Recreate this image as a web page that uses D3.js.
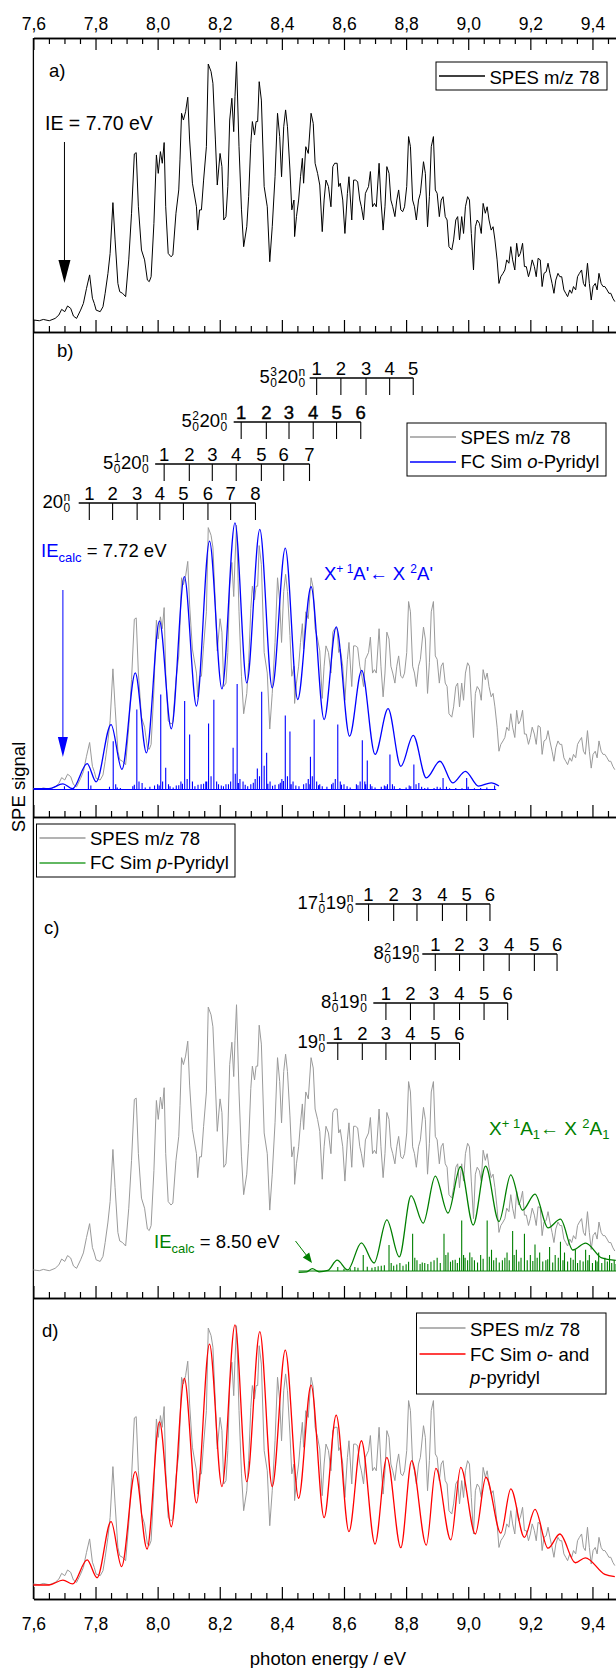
<!DOCTYPE html>
<html>
<head>
<meta charset="utf-8">
<script src="https://cdn.jsdelivr.net/npm/d3@7"></script>
<style>
  body { margin: 0; background: #fff; }
  text { font-family: "Liberation Sans", Arial, sans-serif; }
</style>
</head>
<body>
<div id="chart"></div>
<script>
// SPES m/z 78 and Franck-Condon simulations, four stacked panels

// tick labels
var majorTicks = [7.6, 7.8, 8.0, 8.2, 8.4, 8.6, 8.8, 9.0, 9.2, 9.4];
var minorTicks = d3.range(7.65, 9.48, 0.05).filter(t => Math.abs(t * 5 - Math.round(t * 5)) > 0.01);

// measured SPES (same trace in every panel)
var spesEnergy = [7.600,7.619,7.632,7.651,7.670,7.682,7.691,7.701,7.710,7.720,7.729,7.739,7.752,7.761,7.771,7.781,7.790,7.796,7.802,7.815,7.824,7.831,7.840,7.847,7.856,7.863,7.872,7.878,7.887,7.897,7.907,7.916,7.925,7.931,7.938,7.948,7.958,7.967,7.973,7.979,7.988,7.996,8.002,8.009,8.015,8.021,8.026,8.034,8.043,8.049,8.059,8.068,8.072,8.077,8.083,8.090,8.097,8.103,8.112,8.125,8.129,8.135,8.141,8.148,8.157,8.163,8.172,8.178,8.186,8.192,8.201,8.207,8.213,8.220,8.226,8.232,8.239,8.245,8.249,8.254,8.262,8.270,8.277,8.287,8.293,8.300,8.305,8.312,8.317,8.322,8.327,8.334,8.343,8.353,8.361,8.369,8.378,8.386,8.393,8.399,8.406,8.412,8.418,8.426,8.432,8.439,8.441,8.447,8.454,8.460,8.466,8.470,8.477,8.485,8.494,8.501,8.507,8.515,8.522,8.530,8.536,8.542,8.550,8.558,8.564,8.570,8.578,8.583,8.588,8.596,8.603,8.611,8.616,8.625,8.631,8.637,8.644,8.651,8.656,8.663,8.669,8.679,8.685,8.692,8.698,8.704,8.713,8.719,8.726,8.732,8.738,8.745,8.751,8.757,8.764,8.770,8.776,8.783,8.789,8.795,8.802,8.808,8.814,8.821,8.827,8.833,8.840,8.846,8.856,8.862,8.869,8.875,8.881,8.888,8.894,8.900,8.907,8.913,8.919,8.926,8.932,8.938,8.947,8.953,8.960,8.966,8.972,8.979,8.985,8.991,8.998,9.004,9.010,9.017,9.023,9.029,9.036,9.042,9.048,9.055,9.061,9.067,9.074,9.080,9.086,9.093,9.099,9.105,9.112,9.118,9.124,9.131,9.137,9.143,9.150,9.156,9.162,9.168,9.175,9.181,9.187,9.194,9.200,9.206,9.213,9.219,9.225,9.232,9.238,9.244,9.251,9.257,9.263,9.270,9.276,9.282,9.289,9.295,9.301,9.308,9.314,9.320,9.327,9.333,9.339,9.346,9.352,9.358,9.365,9.371,9.377,9.384,9.390,9.396,9.402,9.409,9.415,9.421,9.428,9.434,9.440,9.447,9.453,9.459,9.466,9.472];
var spesSignal = [0.4,0.1,0.6,0.1,1.0,2.3,4.5,3.6,5.8,4.9,1.9,1.0,4.2,6.8,12.6,17.8,8.8,6.8,4.2,3.6,5.5,10.7,18.4,26.1,45.7,31.3,14.5,11.3,10.7,9.4,23.6,41.6,64.5,65.0,44.1,27.4,23.6,15.8,15.2,17.1,37.7,64.1,57.0,65.4,60.9,68.9,44.1,26.1,24.8,25.5,41.6,50.6,62.2,80.2,77.6,80.8,86.4,69.9,53.2,44.1,35.1,42.9,42.9,54.4,67.3,99.2,96.3,91.8,69.9,52.5,64.7,59.6,39.0,40.3,51.9,77.6,86.0,73.1,86.6,100.1,67.3,42.9,28.7,36.4,48.0,68.6,77.0,71.8,77.0,77.0,92.4,85.3,51.9,44.1,22.9,36.4,55.7,80.2,71.2,55.7,75.0,81.5,75.0,58.3,42.9,46.7,32.6,40.3,46.7,55.7,62.8,53.2,67.3,64.7,80.2,76.3,60.9,57.0,52.5,34.5,46.7,54.4,51.9,44.1,59.6,60.9,60.9,51.9,53.2,46.7,33.8,49.3,55.7,39.0,54.4,54.4,53.8,46.7,44.1,39.0,49.3,51.9,57.7,44.1,45.4,44.1,60.9,46.7,35.1,44.1,59.6,57.0,46.7,44.1,40.3,46.7,50.6,42.9,42.2,44.1,51.9,71.2,67.3,46.7,44.1,39.0,46.7,49.3,61.5,57.0,36.4,48.0,67.3,71.2,50.6,49.3,40.3,46.7,48.0,40.3,39.0,28.7,27.4,31.3,39.0,40.3,31.3,40.3,33.8,44.1,48.0,46.7,33.8,19.7,36.4,39.0,37.7,33.8,45.4,41.6,44.1,39.0,35.1,36.4,31.3,23.6,14.5,17.1,18.4,19.7,23.6,22.3,28.7,23.6,19.7,30.0,24.8,26.1,30.0,21.0,21.0,17.1,19.7,23.6,21.0,17.1,24.2,23.6,13.3,18.4,19.0,22.3,18.4,14.5,10.7,15.8,18.4,17.1,17.1,12.0,10.7,9.4,12.0,10.7,13.3,12.0,17.1,18.4,19.7,14.5,13.3,22.3,14.5,8.1,13.3,14.5,12.0,18.4,14.5,13.3,13.3,12.0,10.7,10.7,8.7,7.5];

// FC simulation o-pyridyl (envelope + sticks)
var oSimEnergy = [7.600,7.650,7.695,7.726,7.773,7.802,7.850,7.885,7.928,7.964,8.006,8.044,8.086,8.125,8.167,8.207,8.249,8.287,8.329,8.369,8.411,8.451,8.494,8.536,8.575,8.618,8.657,8.700,8.742,8.783,8.823,8.865,8.909,8.950,8.991,9.033,9.074,9.099];
var oSimSignal = [0.3,0.3,2.1,0.3,9.8,2.9,24.6,7.6,44.2,13.9,63.8,23.0,80.6,31.6,94.1,38.1,101.0,40.4,98.5,38.5,91.4,34.1,76.8,26.5,61.6,20.2,45.1,13.3,30.6,8.8,20.5,4.4,10.7,2.5,6.9,1.3,2.5,1.3];
var oStickEnergy = [7.700,7.777,7.785,7.857,7.865,7.933,7.940,7.950,7.990,8.000,8.010,8.016,8.026,8.035,8.060,8.075,8.087,8.095,8.103,8.112,8.140,8.155,8.164,8.172,8.181,8.190,8.220,8.235,8.243,8.250,8.256,8.265,8.275,8.300,8.314,8.321,8.328,8.335,8.343,8.351,8.362,8.390,8.400,8.411,8.418,8.426,8.436,8.470,8.485,8.492,8.498,8.504,8.512,8.522,8.560,8.572,8.580,8.588,8.600,8.640,8.652,8.659,8.667,8.675,8.685,8.730,8.740,8.748,8.756,8.810,8.825,8.832,8.841,8.850,8.900,8.919,8.930,8.995,9.000,9.060,9.085];
var oStickHeight = [1.2,6.9,1.5,18.3,2,30.3,3,2.5,1.5,2,36,3,8.2,2,1.5,3,33.5,4,20.8,3,2,3,25,5,34,3,2,3,15.8,6,40,4,3,2,4,8,5,37,9,13.9,3,2,4,28,5,22,3,2,4,12.4,5,26.5,3,2,2,4,24.6,3,2,2,3,18.7,3,11,2,1.5,2,13.3,2,1.5,9.5,2,2.5,1,1,4.4,1,4.4,1,0.8,1.5];
var oGrassEnergy = [7.845,7.870,7.880,7.920,7.925,7.960,7.975,8.005,8.040,8.050,8.068,8.080,8.120,8.130,8.148,8.158,8.196,8.205,8.212,8.228,8.260,8.282,8.290,8.308,8.355,8.370,8.378,8.395,8.405,8.430,8.445,8.455,8.478,8.490,8.518,8.530,8.545,8.565,8.592,8.610,8.620,8.645,8.670,8.690,8.700,8.720,8.735,8.762,8.780,8.800,8.815,8.860,8.870,8.890,8.910,8.940,8.960,8.980,9.020,9.040];
var oGrassHeight = [1,0.8,0.6,1.2,1.8,0.8,1,1.5,1.2,0.8,1.6,2.2,1.2,1.8,2.2,3,2,1.5,1.2,2,2.5,1.8,1.2,2.6,2.2,1.4,1.8,2.6,3.2,2,1.5,1.2,2.4,2,1.6,1.2,1,2.6,1.8,1.2,0.8,1.6,2,1.2,0.8,1,1.2,1.2,0.6,0.8,1.2,0.6,0.8,0.6,0.8,0.5,0.6,0.5,0.5,0.6];

// FC simulation p-pyridyl (envelope + sticks)
var pSimEnergy = [8.454,8.480,8.498,8.520,8.548,8.578,8.612,8.656,8.697,8.738,8.778,8.816,8.855,8.894,8.935,8.975,9.016,9.056,9.099,9.137,9.175,9.215,9.257,9.297,9.337,9.378,9.430,9.475];
var pSimSignal = [-0.5,-0.3,0.9,-0.3,0.2,4.1,0.4,10.6,3.0,19.2,5.3,28.3,18.0,35.7,21.8,39.2,17.3,39.4,18.6,36.1,22.9,28.9,16.2,19.5,7.9,10.5,4.9,4.0];
var pStickEnergy = [8.580,8.662,8.700,8.720,8.745,8.760,8.780,8.800,8.821,8.835,8.860,8.880,8.900,8.922,8.935,8.950,8.965,8.979,8.990,9.005,9.020,9.040,9.061,9.075,9.090,9.110,9.125,9.143,9.155,9.170,9.181,9.200,9.215,9.230,9.250,9.262,9.280,9.297,9.310,9.330,9.345,9.360,9.378,9.390,9.410,9.420,9.440,9.455,9.470];
var pStickHeight = [1.5,6,1.5,2,9.8,2,3,2.5,14,4,3,3.5,5,14,7,4,3,19,5,7,4,6,19,8,5,4,7,15,8,5,14,6,10,7,4,9,6,11,7,5,8,4,8,6,4,7,5,6,4];
var pGrassEnergy = [8.600,8.620,8.635,8.645,8.675,8.690,8.710,8.730,8.752,8.770,8.790,8.808,8.828,8.845,8.852,8.870,8.890,8.910,8.928,8.943,8.958,8.972,8.985,8.998,9.012,9.030,9.048,9.068,9.082,9.100,9.118,9.132,9.148,9.163,9.190,9.208,9.222,9.240,9.256,9.272,9.290,9.305,9.320,9.338,9.352,9.370,9.385,9.400,9.415,9.430,9.448,9.462,9.476];
var pGrassHeight = [0.8,1,1.5,1.2,1.6,1.2,1.8,2.2,3,2.4,2,3.5,5,2.6,3.2,2.6,4,3,6,3.5,4.2,5,6,4,5.2,3.2,4.6,5.4,4,3.2,5,4,6,3.6,4,3.8,5,3.6,4.4,3.2,5,4,3.6,4.2,3,3.6,4,3,3.6,3,3.6,3,2.6];

// FC simulation o- and p-pyridyl combined
var sumEnergy = [7.600,7.650,7.695,7.726,7.773,7.805,7.850,7.884,7.928,7.966,8.006,8.044,8.086,8.125,8.167,8.207,8.249,8.287,8.329,8.369,8.411,8.454,8.494,8.536,8.575,8.616,8.656,8.700,8.738,8.783,8.818,8.865,8.896,8.944,8.976,9.023,9.057,9.105,9.137,9.181,9.215,9.257,9.295,9.345,9.377,9.440,9.472];
var sumSignal = [0,0,1.9,0.4,9.7,2.8,24.5,7.1,43.8,13.9,63,22.5,79.8,31.7,93,38,100.4,39.9,97.8,38,90.7,33.5,77.2,26,65.6,20.6,55.7,15.8,49.3,14.4,48,15.4,45,17.4,45.4,19.7,41.6,20,37.1,18.4,29.2,14.2,19.7,8.6,10.5,4.1,3.2];

// vibrational progressions (energies of the comb ticks)
var prog5_3 = [8.512, 8.590, 8.671, 8.747, 8.823];
var prog5_2 = [8.269, 8.350, 8.423, 8.501, 8.576, 8.654];
var prog5_1 = [8.021, 8.102, 8.176, 8.253, 8.334, 8.406, 8.489];
var prog20 = [7.780, 7.855, 7.934, 8.007, 8.083, 8.162, 8.235, 8.315];
var prog17_19 = [8.679, 8.760, 8.835, 8.917, 8.995, 9.070];
var prog8_2 = [8.894, 8.972, 9.050, 9.132, 9.213, 9.286];
var prog8_1 = [8.735, 8.814, 8.890, 8.972, 9.051, 9.127];
var prog19 = [8.580, 8.659, 8.735, 8.814, 8.894, 8.972];

var gray = "#9a9a9a", blue = "#0000ff", green = "#007f00", red = "#ff0000";
var fs = 18.5;

var svgwidth = 616, svgheight = 1668;
var svg = d3.select("#chart").append("svg")
    .attr("width", svgwidth)
    .attr("height", svgheight);

var x = d3.scaleLinear().domain([7.6, 9.48]).range([33.4, 617.3]);

var panels = [
    {top: 38, bottom: 332, base: 321, span: 259},
    {top: 332, bottom: 817, base: 789.5, span: 264},
    {top: 817, bottom: 1298, base: 1271, span: 266},
    {top: 1298, bottom: 1599, base: 1585, span: 259}
];
panels.forEach(p => p.y = d3.scaleLinear().domain([0, 100]).range([p.base, p.base - p.span]));

var fmt = d3.formatLocale({decimal: ",", thousands: ".", grouping: [3], currency: ["", ""]}).format(".1f");

function styleAxis(g) {
    g.select(".domain").attr("stroke-width", 1.3);
    g.selectAll(".tick line").attr("stroke-width", 1.2);
    g.attr("font-size", 17.5).attr("font-family", "Liberation Sans, Arial, sans-serif");
}

// bottom axes of every panel, ticks pointing inward
panels.forEach(function(p, i) {
    var major = d3.axisBottom(x).tickValues(majorTicks).tickSize(-12).tickSizeOuter(0)
        .tickPadding(19).tickFormat(i === 3 ? fmt : () => "");
    var minor = d3.axisBottom(x).tickValues(minorTicks).tickSize(-6).tickSizeOuter(0).tickFormat(() => "");
    svg.append("g").attr("transform", `translate(0,${p.bottom})`).call(minor).call(styleAxis);
    svg.append("g").attr("transform", `translate(0,${p.bottom})`).call(major).call(styleAxis);
});

// top axis with labels
svg.append("g").attr("transform", `translate(0,${panels[0].top})`)
    .call(d3.axisTop(x).tickValues(minorTicks).tickSize(-6).tickSizeOuter(0).tickFormat(() => ""))
    .call(styleAxis);
svg.append("g").attr("transform", `translate(0,${panels[0].top})`)
    .call(d3.axisTop(x).tickValues(majorTicks).tickSize(-12).tickSizeOuter(0).tickPadding(8).tickFormat(fmt))
    .call(styleAxis);

// left axis line
svg.append("line")
    .attr("x1", x(7.6)).attr("x2", x(7.6))
    .attr("y1", panels[0].top).attr("y2", panels[3].bottom)
    .attr("stroke", "#000").attr("stroke-width", 1.3);

function lineFor(p, curve) {
    return d3.line().x(d => x(d[0])).y(d => p.y(d[1])).curve(curve || d3.curveLinear);
}

// stick spectrum drawn as one path along the baseline
function sticks(list, from, to) {
    var pts = [[from, 0]];
    list.slice().sort((a, b) => a[0] - b[0]).forEach(function(s) {
        pts.push([s[0], 0], [s[0], s[1]], [s[0], 0]);
    });
    pts.push([to, 0]);
    return pts;
}

var spes = d3.zip(spesEnergy, spesSignal);
var oSticks = d3.zip(oStickEnergy, oStickHeight).concat(d3.zip(oGrassEnergy, oGrassHeight));
var pSticks = d3.zip(pStickEnergy, pStickHeight).concat(d3.zip(pGrassEnergy, pGrassHeight));

// panel a
svg.append("path").datum(spes)
    .attr("d", lineFor(panels[0])).attr("fill", "none").attr("stroke", "#000").attr("stroke-width", 1);

// panel b
svg.append("path").datum(spes)
    .attr("d", lineFor(panels[1])).attr("fill", "none").attr("stroke", gray).attr("stroke-width", 1);
svg.append("path").datum(sticks(oSticks, 7.6, 9.09))
    .attr("d", lineFor(panels[1])).attr("fill", "none").attr("stroke", blue).attr("stroke-width", 1.1);
svg.append("path").datum(d3.zip(oSimEnergy, oSimSignal))
    .attr("d", lineFor(panels[1], d3.curveMonotoneX)).attr("fill", "none").attr("stroke", blue).attr("stroke-width", 1.3);

// panel c
svg.append("path").datum(spes)
    .attr("d", lineFor(panels[2])).attr("fill", "none").attr("stroke", gray).attr("stroke-width", 1);
svg.append("path").datum(sticks(pSticks, 8.454, 9.48))
    .attr("d", lineFor(panels[2])).attr("fill", "none").attr("stroke", green).attr("stroke-width", 1.1);
svg.append("path").datum(d3.zip(pSimEnergy, pSimSignal))
    .attr("d", lineFor(panels[2], d3.curveMonotoneX)).attr("fill", "none").attr("stroke", green).attr("stroke-width", 1.3);

// panel d
svg.append("path").datum(spes)
    .attr("d", lineFor(panels[3])).attr("fill", "none").attr("stroke", gray).attr("stroke-width", 1);
svg.append("path").datum(d3.zip(sumEnergy, sumSignal))
    .attr("d", lineFor(panels[3], d3.curveMonotoneX)).attr("fill", "none").attr("stroke", red).attr("stroke-width", 1.3);

// comb label like 5^3_0 20^n_0, right aligned at xRight
function combLabel(parts, xRight, yBase) {
    var g = svg.append("g");
    var cx = 0;
    parts.forEach(function(p) {
        if (typeof p === "string") {
            var t = g.append("text").attr("x", cx).attr("y", yBase).attr("font-size", fs).text(p);
            cx += t.node().getComputedTextLength();
        } else {
            var s1 = g.append("text").attr("x", cx + 0.5).attr("y", yBase - 7.5).attr("font-size", 12).text(p[0]);
            var s2 = g.append("text").attr("x", cx + 0.5).attr("y", yBase + 4).attr("font-size", 12).text(p[1]);
            cx += Math.max(s1.node().getComputedTextLength(), s2.node().getComputedTextLength()) + 1;
        }
    });
    g.attr("transform", `translate(${xRight - cx},0)`);
}

var combs = [
    {e: prog5_3, y: 378, lead: 7, gap: 4, label: ["5", ["3", "0"], "20", ["n", "0"]]},
    {e: prog5_2, y: 422, lead: 7.5, gap: 6, label: ["5", ["2", "0"], "20", ["n", "0"]], heavy: true},
    {e: prog5_1, y: 464, lead: 9, gap: 6, label: ["5", ["1", "0"], "20", ["n", "0"]]},
    {e: prog20, y: 503, lead: 10.6, gap: 8, label: ["20", ["n", "0"]]},
    {e: prog17_19, y: 904, lead: 13, gap: 1.5, label: ["17", ["1", "0"], "19", ["n", "0"]]},
    {e: prog8_2, y: 954, lead: 13, gap: 2.5, label: ["8", ["2", "0"], "19", ["n", "0"]]},
    {e: prog8_1, y: 1003, lead: 12.6, gap: 6, label: ["8", ["1", "0"], "19", ["n", "0"]]},
    {e: prog19, y: 1043, lead: 11, gap: 1, label: ["19", ["n", "0"]]}
];

combs.forEach(function(c) {
    var x0 = x(c.e[0]) - c.lead, x1 = x(c.e[c.e.length - 1]);
    svg.append("line").attr("x1", x0).attr("x2", x1).attr("y1", c.y).attr("y2", c.y)
        .attr("stroke", "#000").attr("stroke-width", 1.3);
    svg.selectAll(null).data(c.e).enter().append("line")
        .attr("x1", d => x(d)).attr("x2", d => x(d))
        .attr("y1", c.y).attr("y2", c.y + 17)
        .attr("stroke", "#000").attr("stroke-width", 1.1);
    svg.selectAll(null).data(c.e).enter().append("text")
        .attr("x", d => x(d)).attr("y", c.y - 3)
        .attr("text-anchor", "middle").attr("font-size", fs)
        .attr("stroke", c.heavy ? "#000" : "none").attr("stroke-width", 0.4)
        .text((d, i) => i + 1);
    combLabel(c.label, x0 - c.gap, c.y + 5);
});

// panel letters
[["a)", 49, 77], ["b)", 57, 357], ["c)", 44, 934], ["d)", 42, 1337]].forEach(function(l) {
    svg.append("text").attr("x", l[1]).attr("y", l[2]).attr("font-size", fs).text(l[0]);
});

// legends
function legend(x0, y0, w, h, rows) {
    svg.append("rect").attr("x", x0).attr("y", y0).attr("width", w).attr("height", h)
        .attr("fill", "#fff").attr("stroke", "#000").attr("stroke-width", 1);
    rows.forEach(function(r) {
        if (r.color) {
            svg.append("line").attr("x1", x0 + 3).attr("x2", x0 + 49).attr("y1", r.ly).attr("y2", r.ly)
                .attr("stroke", r.color).attr("stroke-width", 1.3);
        }
        var t = svg.append("text").attr("x", x0 + 53.5).attr("y", r.ty).attr("font-size", fs);
        r.parts.forEach(function(p) {
            t.append("tspan").attr("font-style", p[1] ? "italic" : null).text(p[0]);
        });
    });
}

legend(436, 62, 171, 28, [{color: "#000", ly: 76, ty: 83.5, parts: [["SPES m/z 78"]]}]);
legend(407, 423, 199, 53, [
    {color: gray, ly: 437, ty: 444, parts: [["SPES m/z 78"]]},
    {color: blue, ly: 462, ty: 468, parts: [["FC Sim "], ["o", true], ["-Pyridyl"]]}
]);
legend(36.5, 824, 198.5, 53, [
    {color: gray, ly: 838, ty: 845, parts: [["SPES m/z 78"]]},
    {color: "#2ea02e", ly: 863, ty: 869, parts: [["FC Sim "], ["p", true], ["-Pyridyl"]]}
]);
legend(416.5, 1313, 189.5, 81, [
    {color: gray, ly: 1328, ty: 1336, parts: [["SPES m/z 78"]]},
    {color: red, ly: 1354, ty: 1361, parts: [["FC Sim "], ["o", true], ["- and"]]},
    {ty: 1384, parts: [["p", true], ["-pyridyl"]]}
]);

// ionisation energy markers
svg.append("text").attr("x", 45).attr("y", 130).attr("font-size", fs + 1).text("IE = 7.70 eV");
function arrowDown(xp, y1, y2, color, hw, hl) {
    svg.append("line").attr("x1", xp).attr("x2", xp).attr("y1", y1).attr("y2", y2 - hl + 2)
        .attr("stroke", color).attr("stroke-width", 1);
    svg.append("path")
        .attr("d", `M${xp - hw},${y2 - hl}L${xp + hw},${y2 - hl}L${xp},${y2}Z`)
        .attr("fill", color);
}
arrowDown(x(7.70), 142, 283, "#000", 6, 23);
arrowDown(x(7.695), 590, 757, blue, 5, 20);

var ieB = svg.append("text").attr("x", 41).attr("y", 557).attr("font-size", fs);
ieB.append("tspan").attr("fill", blue).text("IE");
ieB.append("tspan").attr("fill", blue).attr("font-size", 13).attr("dy", 5).text("calc");
ieB.append("tspan").attr("dy", -5).text(" = 7.72 eV");

var ieC = svg.append("text").attr("x", 154).attr("y", 1248).attr("font-size", fs);
ieC.append("tspan").attr("fill", green).text("IE");
ieC.append("tspan").attr("fill", green).attr("font-size", 13).attr("dy", 5).text("calc");
ieC.append("tspan").attr("dy", -5).text(" = 8.50 eV");

svg.append("line").attr("x1", 295.5).attr("y1", 1241).attr("x2", 307).attr("y2", 1256)
    .attr("stroke", green).attr("stroke-width", 1);
svg.append("path").attr("d", "M312,1263L309.2,1252.6L302.8,1257.4Z").attr("fill", green);

// transition labels
var trB = svg.append("text").attr("x", 324).attr("y", 580).attr("font-size", fs).attr("fill", blue);
trB.append("tspan").text("X");
trB.append("tspan").attr("font-size", 12).attr("dy", -7).text("+ 1");
trB.append("tspan").attr("dy", 7).text("A'\u2190 X ");
trB.append("tspan").attr("font-size", 12).attr("dy", -7).text("2");
trB.append("tspan").attr("dy", 7).text("A'");

var trC = svg.append("text").attr("x", 489).attr("y", 1135).attr("font-size", 19).attr("fill", green)
    .attr("font-family", "Liberation Serif, Times New Roman, serif");
trC.append("tspan").text("X");
trC.append("tspan").attr("font-size", 13).attr("dy", -7).text("+ 1");
trC.append("tspan").attr("dy", 7).text("A");
trC.append("tspan").attr("font-size", 13).attr("dy", 4).text("1");
trC.append("tspan").attr("dy", -4).text("\u2190 X ");
trC.append("tspan").attr("font-size", 13).attr("dy", -7).text("2");
trC.append("tspan").attr("dy", 7).text("A");
trC.append("tspan").attr("font-size", 13).attr("dy", 4).text("1");

// axis titles
svg.append("text")
    .attr("transform", "translate(25,787) rotate(-90)")
    .attr("text-anchor", "middle").attr("font-size", fs)
    .text("SPE signal");

svg.append("text")
    .attr("x", 328).attr("y", 1665)
    .attr("text-anchor", "middle").attr("font-size", fs)
    .text("photon energy / eV");
</script>
</body>
</html>
